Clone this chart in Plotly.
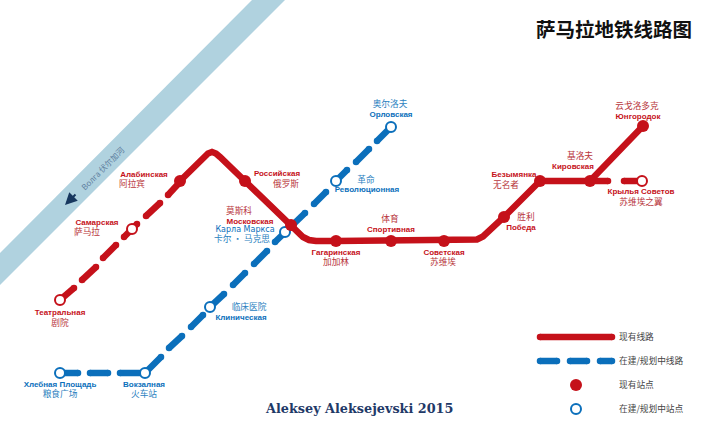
import plotly.graph_objects as go

RED = "#c5111a"
BLUE = "#0b6fbb"
CYR = "Liberation Sans"
CJK = "Noto Sans CJK SC"
LINE_W = 6.5

# river band
river_x = [0, 252, 285, 0]
river_y = [253, 0, 0, 285]

# existing line, bends are short runs of points
red_x = [180, 204, 208, 212, 216, 220, 245, 291, 297, 303, 309, 316, 336, 391, 444, 470, 477, 483, 488, 504, 540, 590, 643]
red_y = [181, 157, 153.5, 152, 153.5, 157, 181, 226, 232, 237, 240, 241, 241, 241, 241, 241, 239.5, 236.5, 232, 217, 181, 181, 126]
red_branch_x = [590, 608]
red_branch_y = [181, 181]

# dashes, None between them
red_dash_x = [60, 74, None, 82, 96, None, 103, 116, None, 124, 137, None, 146, 160, None, 168, 180, None, 624, 642]
red_dash_y = [300, 288, None, 280, 267, None, 258, 245, None, 237, 224, None, 216, 203, None, 195, 182, None, 181, 181]
blue_dash_x = [64, 78, None, 90, 108, None, 120, 145, 161, None, 169, 182, None, 191, 203, None, 210, 224, None,
               233, 245, None, 254, 267, None, 275, 305, None, 314, 326, None, 336, 347, None, 356, 369, None, 377, 391]
blue_dash_y = [373, 373, None, 373, 373, None, 373, 373, 357, None, 348, 336, None, 327, 315, None, 307, 294, None,
               285, 273, None, 264, 251, None, 242, 213, None, 204, 192, None, 181, 170, None, 162, 149, None, 141, 127]

# stations
red_st_x = [180, 245, 291, 336, 391, 444, 504, 540, 590, 643]
red_st_y = [181, 181, 225, 241, 241, 241, 217, 181, 181, 126]
red_open_x = [60, 132, 642]
red_open_y = [300, 229, 181]
blue_open_x = [60, 145, 210, 285, 336, 391]
blue_open_y = [373, 373, 307, 232, 181, 127]

# labels
red_names = ["Театральная", "Самарская", "Алабинская", "Российская", "Московская", "Гагаринская", "Спортивная",
             "Советская", "Победа", "Безымянка", "Кировская", "Юнгородок", "Крылья Советов"]
red_names_x = [60, 97, 144, 277, 250, 336, 391, 444, 521, 514, 573, 638, 641]
red_names_y = [313, 223, 175, 174, 222, 253, 230, 253, 228, 175, 167, 117, 192]
red_cn = ["剧院", "萨马拉", "阿拉宾", "俄罗斯", "莫斯科", "加加林", "体育", "苏维埃", "胜利", "无名者", "基洛夫", "云戈洛多克", "苏维埃之翼"]
red_cn_x = [60, 87, 132, 286, 239, 336, 390, 443, 526, 506, 580, 637, 641]
red_cn_y = [324, 233, 185, 185, 212, 263, 220, 263, 218, 186, 157, 107, 203]
blue_names = ["Хлебная Площадь", "Вокзалная", "Клиническая", "Революционная", "Орловская"]
blue_names_x = [60, 144, 241, 367, 391]
blue_names_y = [385, 385, 318, 190, 115]
blue_cn = ["粮食广场", "火车站", "临床医院", "卡尔 • 马克思", "革命", "奥尔洛夫"]
blue_cn_x = [60, 144, 249, 242, 366, 390]
blue_cn_y = [395, 395, 308, 240, 181, 105]

# legend
key_line_x = [540, 612]
key_line_y = [337, 337]
key_dash_x = [540, 557, None, 570, 587, None, 600, 612]
key_dash_y = [361, 361, None, 361, 361, None, 361, 361]
key_text = ["现有线路", "在建/规划中线路", "现有站点", "在建/规划中站点"]
key_text_y = [338, 362, 386, 410]

fig = go.Figure()

fig.add_trace(go.Scatter(x=river_x, y=river_y, fill="toself", fillcolor="#b0d2df", mode="none"))

# markers the same size as the line width give the round caps
fig.add_trace(go.Scatter(x=blue_dash_x, y=blue_dash_y, mode="lines+markers",
                         line=dict(color=BLUE, width=LINE_W), marker=dict(color=BLUE, size=LINE_W)))
fig.add_trace(go.Scatter(x=red_dash_x, y=red_dash_y, mode="lines+markers",
                         line=dict(color=RED, width=LINE_W), marker=dict(color=RED, size=LINE_W)))
fig.add_trace(go.Scatter(x=blue_open_x, y=blue_open_y, mode="markers",
                         marker=dict(color="white", size=10, line=dict(color=BLUE, width=2))))
fig.add_trace(go.Scatter(x=red_x, y=red_y, mode="lines", line=dict(color=RED, width=LINE_W)))
fig.add_trace(go.Scatter(x=red_branch_x, y=red_branch_y, mode="lines+markers",
                         line=dict(color=RED, width=LINE_W), marker=dict(color=RED, size=LINE_W)))

fig.add_trace(go.Scatter(x=red_st_x, y=red_st_y, mode="markers", marker=dict(color=RED, size=12)))
fig.add_trace(go.Scatter(x=red_open_x, y=red_open_y, mode="markers",
                         marker=dict(color="white", size=10, line=dict(color=RED, width=2))))

fig.add_trace(go.Scatter(x=red_names_x, y=red_names_y, text=red_names, mode="text",
                         textfont=dict(family=CYR, size=8, color=RED, weight="bold")))
fig.add_trace(go.Scatter(x=red_cn_x, y=red_cn_y, text=red_cn, mode="text",
                         textfont=dict(family=CJK, size=8.7, color="#b8353b")))
fig.add_trace(go.Scatter(x=blue_names_x, y=blue_names_y, text=blue_names, mode="text",
                         textfont=dict(family=CYR, size=8, color=BLUE, weight="bold")))
fig.add_trace(go.Scatter(x=[245], y=[230], text=["Карла Маркса"], mode="text",
                         textfont=dict(family="DejaVu Sans", size=8, color=BLUE)))
fig.add_trace(go.Scatter(x=blue_cn_x, y=blue_cn_y, text=blue_cn, mode="text",
                         textfont=dict(family=CJK, size=8.7, color="#2b7fc0")))

# legend drawn by hand
fig.add_trace(go.Scatter(x=key_line_x, y=key_line_y, mode="lines+markers",
                         line=dict(color=RED, width=LINE_W), marker=dict(color=RED, size=LINE_W)))
fig.add_trace(go.Scatter(x=key_dash_x, y=key_dash_y, mode="lines+markers",
                         line=dict(color=BLUE, width=LINE_W), marker=dict(color=BLUE, size=LINE_W)))
fig.add_trace(go.Scatter(x=[576], y=[385], mode="markers", marker=dict(color=RED, size=12)))
fig.add_trace(go.Scatter(x=[576], y=[409], mode="markers",
                         marker=dict(color="white", size=10, line=dict(color=BLUE, width=2))))
fig.add_trace(go.Scatter(x=[619] * 4, y=key_text_y, text=key_text, mode="text", textposition="middle right",
                         textfont=dict(family=CJK, size=8.7, color="#444444")))

fig.add_annotation(x=614, y=28, text="<b>萨马拉地铁线路图</b>", showarrow=False,
                   font=dict(family=CJK, size=19.5, color="#111111"))
fig.add_annotation(x=359, y=408, text="<b>Aleksey Aleksejevski 2015</b>", showarrow=False,
                   font=dict(family="DejaVu Serif", size=12.8, color="#1f3a68"))
fig.add_annotation(x=102, y=168, text="Волга 伏尔加河", textangle=-45, showarrow=False,
                   font=dict(family=CJK, size=8, color="#5f80a0"))
fig.add_annotation(x=65, y=205, ax=77, ay=193, xref="x", yref="y", axref="x", ayref="y", text="",
                   showarrow=True, arrowhead=2, arrowsize=1.2, arrowwidth=2, arrowcolor="#17375e")

fig.update_xaxes(range=[0, 720], visible=False)
fig.update_yaxes(range=[432, 0], visible=False)
fig.update_layout(width=720, height=432, margin=dict(l=0, r=0, t=0, b=0), showlegend=False,
                  plot_bgcolor="white", paper_bgcolor="white", hovermode=False)

# the page's default body margin would push the plot 8px in
fig.write_html("out.html", config=dict(displayModeBar=False),
               post_script="document.body.style.margin='0'; document.body.style.overflow='hidden';")
